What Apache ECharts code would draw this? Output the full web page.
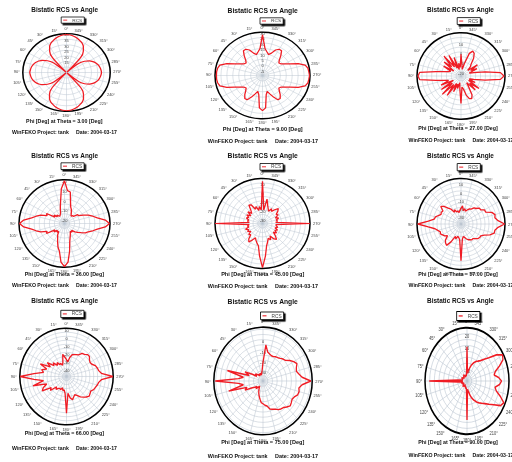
<!DOCTYPE html>
<html>
<head>
<meta charset="utf-8">
<script src="https://cdn.jsdelivr.net/npm/echarts@6/dist/echarts.min.js"></script>
<style>
  html, body { margin: 0; padding: 0; background: #fff; }
  #page { position: relative; width: 512px; height: 462px; overflow: hidden; background: #fff; }
  #labels { position: absolute; left: 0; top: 0; width: 512px; height: 462px; }
  .cell { position: absolute; }
</style>
</head>
<body>
<div id="page"><div id="labels"></div></div>
<script>
// Bistatic RCS (dB) against Phi, one pattern per Theta cut.
const phi = [0,5,10,15,20,25,30,35,40,45,50,55,60,65,70,75,80,85,90,95,100,105,110,115,120,125,130,135,140,145,150,155,160,165,170,175,180,185,190,195,200,205,210,215,220,225,230,235,240,245,250,255,260,265,270,275,280,285,290,295,300,305,310,315,320,325,330,335,340,345,350,355,360];

const thetaLabels = ['3.00', '9.00', '27.00', '36.00', '45.00', '57.00', '66.00', '75.00', '90.00'];

const rcsTheta03 = [39.3,39,38.3,37.2,35.8,34.4,32,28.5,22.5,5.7,18.3,23.5,27,29.5,31.3,32.6,33.5,34,34.4,34,33.5,32.6,31.3,29.5,27,23.5,18.3,5.7,22.7,28.7,32.2,34.6,36,37.4,38.5,39.2,39.5,39.2,38.5,37.4,36,34.6,32.2,28.7,22.7,5.7,17.6,22.7,26,28.3,30,31.3,32.1,32.7,33,32.7,32.1,31.3,30,28.3,26,22.7,17.6,5.7,22.5,28.5,32,34.4,35.8,37.2,38.3,39,39.3];

const rcsTheta09 = [27.6,14.8,12.0,10.0,12.0,16.0,18.0,18.0,14.0,10.0,8.0,8.8,11.6,15.6,22.0,27.2,28.4,28.8,28.8,28.8,28.4,27.2,22.0,15.6,11.6,8.8,8.0,10.0,13.2,16.0,16.0,12.0,8.0,5.2,8.0,20.0,22.4,20.0,8.0,5.2,8.0,12.0,16.0,16.0,13.2,10.0,8.0,8.8,11.6,15.6,22.0,27.2,28.8,29.2,29.6,29.2,28.8,27.2,22.0,15.6,11.6,8.8,8.0,10.0,14.0,18.0,18.0,16.0,12.0,10.0,12.0,14.8,27.6];

const rcsTheta27 = [-2.5,-16,-11.5,-18,-4.5,-16,-0.5,-13.5,2,-11.5,-2.5,-16,-4.5,-13.5,-11.5,-7.5,1,17.5,19,17.5,1,-7.5,-11.5,-2.5,-16,-0.5,-13.5,2,-13.5,-0.5,-16,-7,-16,-11.5,-18,-11.5,3.5,-13.5,-11.5,-4.5,0,1,-2.5,-11.5,-16,-4.5,-13.5,-2.5,-16,-9,-16,-11.5,0,15.5,19,15.5,0,-11.5,-16,-7,-13.5,-4.5,-16,-11.5,-9,-2.5,2,3.5,0,-11.5,-18,-13.5,-2.5];

const rcsTheta36 = [19,11,-2.5,-9,-13.5,-15,-16,-16,-13.5,-15,-11.5,-13.5,-4.5,-6,0,4,8,15.5,19.5,15.5,8,4,0,-6,-4.5,-13.5,-11.5,-15,-13.5,-15,-11.5,-9,-5,0,4,15,19.5,15,4,-5,-9,-11.5,-13.5,-15,-13.5,-15,-11.5,-9,-6,-2,0,4,8,15.5,19.5,15.5,8,4,0,-4.5,-9,-9,-13.5,-13.5,-15,-13.5,-11.5,-9,-7,-2,8,9,19];

const rcsTheta45 = [12,-20,-16,-20,-15,-17.5,-11,-10,-16,-19,-15,-20,-16,-19,-17,-20,-19,-21,15,-21,-19,-20,-16,-19,-17,-20,-16,-17.5,-12.5,-10,-14,-17.5,-15,-12.5,-10,1,14,1,-10,-14,-17.5,-15,-19,-14,-12,-16,-20,-17,-20,-17.5,-21,-18.5,-20,-21,15,-21,-19,-20,-17,-20,-16,-17.5,-14,-11.5,-15,-18.5,-16,-20,-17.5,-14,-7.5,-20,12];

const rcsTheta57 = [-21,-23.5,-26,-23.5,-24.5,-21,-23.5,-18,-15,-10,-7,-12.5,-11.5,-12.5,-10,-7,-6,1,14,1,-7,-10,-12.5,-11.5,-13.5,-15,-18,-12.5,-10,-8.5,-15,-23.5,-21,-24.5,-23.5,-21,4.5,-21,-24.5,-23.5,-21,-19,-18,-16.5,-17,-15,-12.5,-11.5,-11.5,-8,-1.5,3,3,6.5,14.5,6.5,3,4,1,-6,-6,-10,-10,-13.5,-14.5,-18,-19,-21,-23.5,-21,-23.5,-18,-21];

const rcsTheta66 = [-29,-26,-22,-32,-35,-32,-33,-29,-32,-26,-29,-20,-26,-13,-23,-17,-20,-8,9.5,-8,-20,-5.5,-23,-17,-14,-26,-23,-32,-29,-32,-33,-32,-35,-32,-33,-29,-4.5,-29,-23,-20,-23,-25,-23,-19,-16.5,-14,-12,-13,-14,-11.5,-10.5,-9,-8,-5,9.5,-5,-8,-9,-10.5,-14,-15,-14,-11.5,-11.5,-14,-15,-19,-20,-21,-22,-26,-32,-29];

const rcsTheta75 = [-22,-29.5,-32,-34,-32,-34,-32,-34,-32,-32,-29.5,-32,-27,-19,-24.5,-1,-19,-14,10.5,-14,-19,-2.5,-22,-19,-27,-29.5,-32,-29.5,-32,-34,-32,-29.5,-27,-24.5,-22,-19,-18,-16.5,-15.5,-12,-11,-10,-8,-7,-6.5,-4.5,-2.5,-3.5,-4.5,-3.5,-1,-0.5,-1.5,1.5,10.5,1.5,-1.5,-3.5,-2.5,-0.5,-2.5,-5.5,-9,-10,-11.5,-12.5,-13,-14,-14,-13,-11.5,-5,-22];

const rcsTheta90 = [9,-14.5,-15.5,-14.5,-16.5,-14.5,-15.5,-13.5,-15.5,-14.5,-16.5,-14.5,-15.5,-13.5,-15.5,-14.5,-15.5,-11,20.5,-11,-15.5,-13.5,-15.5,-14.5,-16.5,-14.5,-15.5,-13.5,-15.5,-14.5,-16.5,-14.5,-15.5,-13.5,-14.5,-13,13,-13,-11,-7.5,-4.5,-2,0.5,2.5,4.5,7,10.5,15,21.5,23.5,18,12.5,10.5,15,17,14,9.5,11.5,17,22.5,24,18.5,10.5,6,2.5,0.5,-1,-3,-5.5,-8.5,-11,-13.5,9];

const rcsSeries = [rcsTheta03, rcsTheta09, rcsTheta27, rcsTheta36, rcsTheta45, rcsTheta57, rcsTheta66, rcsTheta75, rcsTheta90];

// Radial (dB) scale of each pattern and the ring values that carry a label
const radialMin = [5, -10, -25, -25, -35, -40, -50, -40, -20];
const radialMax = [40, 30, 20, 20, 15, 15, 10, 12, 25];
const radialTickLabels = [
  [40, 35, 30, 25, 20, 15],
  [30, 25, 20, 15, 10, 5, 0, -5],
  [10, 0, -10, -20],
  [20, 10, 0, -10, -20],
  [10, 0, -10, -20, -30],
  [10, 0, -10, -20, -30],
  [10, 0, -10, -20, -30, -40],
  [0, -10, -20, -30],
  [20, 10, 0, -10]
];
const angleStep = 15;

const chartTitle = 'Bistatic RCS vs Angle';
const footerText = 'WinFEKO Project: tank     Date: 2004-03-17';

// Page layout of each panel: plot centre and half-axes, legend box, text rows, curve smoothing
const LAYOUT = [
  {cx: 66.3,  cy: 72.2,  hr: 43.7, vr: 38.8, lgX: 61,    lgY: 16.7,  tx: 64.7,  subX: 64.3,  footX: 64.5,  ty: 10.7,  subY: 122,   footY: 132.7, k: 1,    smooth: 0.3},
  {cx: 262.5, cy: 75,    hr: 47.5, vr: 43.3, lgX: 260,   lgY: 17.3,  tx: 262.7, subX: 262.7, footX: 263,   ty: 10.7,  subY: 129,   footY: 141,   k: 1.05, smooth: 0},
  {cx: 460.5, cy: 75.7,  hr: 44,   vr: 43.3, lgX: 456.7, lgY: 17.3,  tx: 460.5, subX: 458,   footX: 461,   ty: 10.7,  subY: 129,   footY: 141,   k: 1,    smooth: 0},
  {cx: 64.5,  cy: 223,   hr: 45.5, vr: 43.7, lgX: 61,    lgY: 162.3, tx: 64.7,  subX: 64.3,  footX: 64.5,  ty: 156,   subY: 274.3, footY: 286,   k: 1,    smooth: 0},
  {cx: 262.5, cy: 223.3, hr: 47.5, vr: 45,   lgX: 260,   lgY: 163.3, tx: 262.7, subX: 262.7, footX: 263,   ty: 156,   subY: 274.3, footY: 286,   k: 1.05, smooth: 0},
  {cx: 460.5, cy: 223.8, hr: 44,   vr: 45.5, lgX: 456.7, lgY: 163.3, tx: 460.5, subX: 458,   footX: 461,   ty: 156,   subY: 274.3, footY: 286,   k: 1,    smooth: 0},
  {cx: 66.7,  cy: 376.7, hr: 46.7, vr: 48.3, lgX: 61,    lgY: 310.5, tx: 64.7,  subX: 64.3,  footX: 64.5,  ty: 301.7, subY: 434,   footY: 448.3, k: 1,    smooth: 0},
  {cx: 262.5, cy: 380.5, hr: 49.2, vr: 53.8, lgX: 260,   lgY: 311.5, tx: 262.7, subX: 262.7, footX: 263,   ty: 301.7, subY: 442.3, footY: 456,   k: 1.05, smooth: 0},
  {cx: 467,   cy: 381,   hr: 42,   vr: 53.3, lgX: 456.7, lgY: 311.5, tx: 460.5, subX: 458,   footX: 461,   ty: 301.7, subY: 442.3, footY: 456,   k: 1,    smooth: 0}
];

const FONT = '"Liberation Sans", Arial, Helvetica, sans-serif';
const RED = '#f01c24';
const GRID = '#b9c3cf';

// Headings, axis captions and project footers for all panels
const textChart = echarts.init(document.getElementById('labels'), null, {renderer: 'canvas'});
const titles = [];
LAYOUT.forEach((c, i) => {
  const base = {textAlign: 'center', textVerticalAlign: 'middle', padding: 0, itemGap: 0};
  titles.push(Object.assign({}, base, {
    text: chartTitle, left: c.tx, top: c.ty,
    textStyle: {fontFamily: FONT, fontSize: 6.4 * c.k, fontWeight: 'bold', color: '#111'}
  }));
  titles.push(Object.assign({}, base, {
    text: 'Phi [Deg] at Theta = ' + thetaLabels[i] + ' [Deg]', left: c.subX, top: c.subY,
    textStyle: {fontFamily: FONT, fontSize: 5.3 * c.k, fontWeight: 'bold', color: '#111'}
  }));
  titles.push(Object.assign({}, base, {
    text: footerText, left: c.footX, top: c.footY,
    textStyle: {fontFamily: FONT, fontSize: 5.2 * c.k, fontWeight: 'bold', color: '#111'}
  }));
});
textChart.setOption({backgroundColor: '#fff', animation: false, title: titles});

// One polar chart per Theta cut; the panel is stretched to the plot's aspect
const page = document.getElementById('page');
LAYOUT.forEach((c, i) => {
  const M = 26;
  const S = Math.round(2 * (c.hr + M));
  const scaleY = c.vr / c.hr;
  const left0 = c.cx - S / 2;
  const div = document.createElement('div');
  div.className = 'cell';
  div.style.left = left0 + 'px';
  div.style.top = (c.cy - S / 2) + 'px';
  div.style.width = S + 'px';
  div.style.height = S + 'px';
  div.style.transformOrigin = '50% 50%';
  div.style.transform = 'scaleY(' + scaleY + ')';
  page.appendChild(div);

  const values = rcsSeries[i];
  const data = phi.map((a, j) => [values[j], a]);
  const shown = radialTickLabels[i];

  const chart = echarts.init(div, null, {renderer: 'svg'});
  chart.setOption({
    animation: false,
    backgroundColor: 'transparent',
    legend: {
      data: ['RCS'],
      left: c.lgX - left0,
      top: S / 2 + (c.lgY - c.cy) / scaleY,
      icon: 'rect',
      itemWidth: 4,
      itemHeight: 1,
      padding: [1, 2, 1, 2],
      selectedMode: false,
      backgroundColor: '#fff',
      borderColor: '#000',
      borderWidth: 0.8,
      shadowColor: '#000',
      shadowBlur: 0,
      shadowOffsetX: 1.6,
      shadowOffsetY: 1.6 / scaleY,
      textStyle: {fontFamily: FONT, fontSize: 4.8, color: '#444'}
    },
    polar: {center: ['50%', '50%'], radius: c.hr},
    angleAxis: {
      type: 'value', min: 0, max: 360, interval: angleStep,
      startAngle: 90, clockwise: false,
      axisLine: {lineStyle: {color: '#000', width: 1.5}},
      axisTick: {show: false},
      axisLabel: {formatter: '{value}°', fontFamily: FONT, fontSize: 4, color: '#444', margin: 3},
      splitLine: {lineStyle: {color: GRID, width: 0.5}}
    },
    radiusAxis: {
      type: 'value', min: radialMin[i], max: radialMax[i], interval: 5,
      axisLine: {show: false},
      axisTick: {show: false},
      axisLabel: {
        fontFamily: FONT, fontSize: 4, color: '#444', margin: 0,
        align: 'center', verticalAlign: 'top',
        formatter: v => (shown.indexOf(v) >= 0 ? String(v) : '')
      },
      splitLine: {lineStyle: {color: GRID, width: 0.5}}
    },
    series: [{
      name: 'RCS', type: 'line', coordinateSystem: 'polar',
      data: data, symbol: 'none', z: 5, smooth: c.smooth,
      lineStyle: {color: RED, width: 1.3},
      itemStyle: {color: RED}
    }]
  });
});
</script>
</body>
</html>
